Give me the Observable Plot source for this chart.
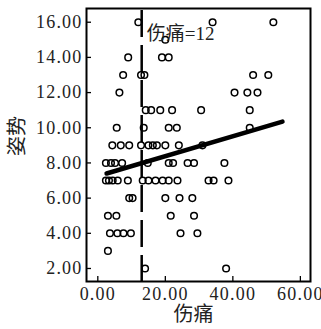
<!DOCTYPE html>
<html><head><meta charset="utf-8">
<script src="https://cdn.jsdelivr.net/npm/d3@7"></script>
<script src="https://cdn.jsdelivr.net/npm/@observablehq/plot@0.6"></script>
<style>
body{margin:0;background:#fff}
[aria-label="y-axis tick label"] text,[aria-label="x-axis tick label"] text{letter-spacing:1.2px}
</style>
</head><body><div id="chart"></div>
<script>
// 伤痛 (x) and 姿势 (y) for each respondent
const painX = [
  12, 34, 52,
  20,
  9, 19, 21,
  7.5, 12.8, 13.8, 46, 50.5,
  6.4, 40.5, 44.3, 47.3,
  14.2, 15.8, 18.5, 22, 30.6, 45,
  5.6, 13.6, 21, 23.4, 45,
  4.3, 6.8, 9.3, 12.8, 15, 16.3, 17.5, 20, 24, 31,
  2.4, 3.9, 5.1, 7.2, 14.8, 21, 22.3, 26.6, 28.5, 37.5,
  2.4, 3.3, 4.4, 5.9, 8.9, 13.3, 15, 17.1, 19.2, 21, 23.6, 32.8, 34.3, 38.7,
  9.3, 10.3, 20, 24.2, 28,
  3, 5.5, 21.6, 28.5,
  3.6, 5.8, 7.6, 9.8, 24.5, 29.5,
  3,
  14, 38
];
const postureY = [
  16, 16, 16,
  15,
  14, 14, 14,
  13, 13, 13, 13, 13,
  12, 12, 12, 12,
  11, 11, 11, 11, 11, 11,
  10, 10, 10, 10, 10,
  9, 9, 9, 9, 9, 9, 9, 9, 9, 9,
  8, 8, 8, 8, 8, 8, 8, 8, 8, 8,
  7, 7, 7, 7, 7, 7, 7, 7, 7, 7, 7, 7, 7, 7,
  6, 6, 6, 6, 6,
  5, 5, 5, 5,
  4, 4, 4, 4, 4, 4,
  3,
  2, 2
];
// fitted line endpoints
const fitX = [2.6, 54.7];
const fitY = [7.4, 10.35];
// reference line
const refX = [13];
const refLabel = ["伤痛=12"];
const xTicks = [0, 20, 40, 60];
const yTicks = [2, 4, 6, 8, 10, 12, 14, 16];
const xLabel = ["伤痛"];
const yLabel = ["姿势"];

const points = painX.map((x, i) => ({x, y: postureY[i]}));
const fit = fitX.map((x, i) => ({x, y: fitY[i]}));
const fmt = d => d.toFixed(2);
const font = "'Liberation Serif', 'Noto Sans CJK SC', serif";

const chart = Plot.plot({
  width: 321,
  height: 329,
  marginLeft: 86,
  marginRight: 11,
  marginTop: 8,
  marginBottom: 48,
  style: {fontFamily: font, background: "#fff", color: "#000"},
  x: {domain: [-3.35, 63]},
  y: {domain: [1.26, 16.78]},
  marks: [
    Plot.axisY(yTicks, {tickSize: -5, fill: "none", label: null, strokeWidth: 1.3}),
    Plot.axisY(yTicks, {tickSize: 0, tickPadding: 4, tickFormat: fmt, label: null, fontSize: 18, fill: "#222"}),
    Plot.axisX(xTicks, {tickSize: -5, fill: "none", label: null, strokeWidth: 1.3}),
    Plot.axisX(xTicks, {tickSize: 0, tickPadding: 6, tickFormat: fmt, label: null, fontSize: 18, fill: "#222"}),
    Plot.ruleX(refX, {stroke: "#000", strokeWidth: 2.5, strokeDasharray: "27,8", strokeDashoffset: -2}),
    Plot.dot(points, {x: "x", y: "y", r: 3.3, stroke: "#000", strokeWidth: 1.5, fill: "none"}),
    Plot.line(fit, {x: "x", y: "y", stroke: "#000", strokeWidth: 4.5}),
    Plot.text(refLabel, {x: () => refX[0], text: d => d, frameAnchor: "top", lineAnchor: "middle", dy: 25, dx: 5, textAnchor: "start", fontSize: 19, fill: "#222"}),
    Plot.text(xLabel, {text: d => d, frameAnchor: "bottom", lineAnchor: "middle", textAnchor: "middle", dy: 33, dx: -5, fontSize: 20, fill: "#222"}),
    Plot.text(yLabel, {text: d => d, frameAnchor: "left", lineAnchor: "middle", textAnchor: "middle", rotate: -90, dx: -69, dy: -9, fontSize: 20, fill: "#222"}),
    Plot.frame({stroke: "#000", strokeWidth: 2})
  ]
});
document.getElementById("chart").appendChild(chart);
</script>
</body></html>
